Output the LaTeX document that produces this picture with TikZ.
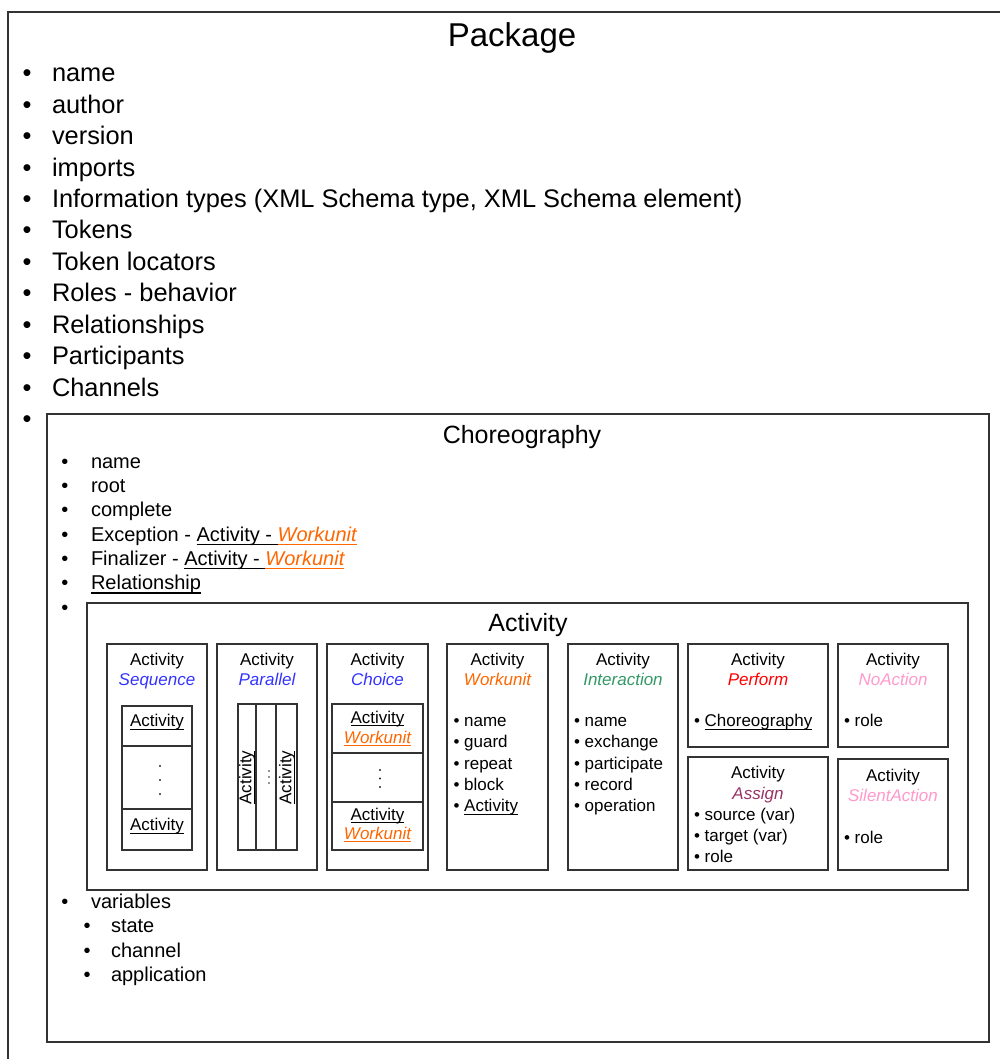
\documentclass[tikz,border=0pt]{standalone}
\usepackage{fontspec}
\setmainfont{Liberation Sans}
\definecolor{seqblue}{RGB}{51,51,255}
\definecolor{wuorange}{RGB}{255,102,0}
\definecolor{intgreen}{RGB}{51,153,102}
\definecolor{perfred}{RGB}{255,0,0}
\definecolor{nopink}{RGB}{255,153,204}
\definecolor{asgpurple}{RGB}{153,51,102}
\newcommand{\ulx}[1]{\setbox0\hbox{#1}\rlap{\rule[-0.19em]{\wd0}{0.065em}}\box0}
\begin{document}
\begin{tikzpicture}[x=1pt,y=-1pt,
  bx/.style={draw=black!80, line width=1.3pt, rectangle, inner sep=0pt, outer sep=0pt, anchor=north west},
  cl/.style={draw=black!80, line width=1.1pt, rectangle, inner sep=0pt, outer sep=0pt, anchor=north west},
  txt/.style={inner sep=0pt, outer sep=0pt, anchor=base},
  ltxt/.style={inner sep=0pt, outer sep=0pt, anchor=base west},
  fPkg/.style={font=\fontsize{33}{40}\selectfont},
  fBig/.style={font=\fontsize{25.4}{30}\selectfont},
  fTit/.style={font=\fontsize{25}{30}\selectfont},
  fMid/.style={font=\fontsize{20}{24}\selectfont},
  fSm/.style={font=\fontsize{17}{20}\selectfont},
  dotm/.style={circle, fill=black!85, inner sep=0pt, minimum size=2.2pt}
]
\path[use as bounding box] (0,0) rectangle (1000,1059);
\begin{scope}
\clip (0,0) rectangle (1000,1059);
\node[bx, minimum width=1010, minimum height=1070] (package) at (8,12) {};
\end{scope}
% Package
\node[txt,fPkg] (pkgtitle) at (512,46.7) {Package};
\foreach \t [count=\i] in {name,author,version,imports,{Information types (XML Schema type, XML Schema element)},Tokens,{Token locators},{Roles - behavior},Relationships,Participants,Channels}{
  \node[ltxt,fBig] (pk\i) at (52,{81.7+(\i-1)*31.45}) {\t};
  \node[txt,fBig] (pkb\i) at (27,{81.7+(\i-1)*31.45}) {•};
}
\node[txt,fBig] (pkb12) at (27,427.6) {•};
% Choreography
\node[bx, minimum width=942, minimum height=628] (chor) at (47,414) {};
\node[txt,fTit] (chortitle) at (522,443) {Choreography};
\node[ltxt,fMid] (ch1) at (91,468.3) {name};
\node[ltxt,fMid] (ch2) at (91,492.6) {root};
\node[ltxt,fMid] (ch3) at (91,516.9) {complete};
\node[ltxt,fMid] (ch4) at (91,541.2) {Exception - \ulx{Activity - }{\color{wuorange}\ulx{\itshape Workunit}}};
\node[ltxt,fMid] (ch5) at (91,565.5) {Finalizer - \ulx{Activity - }{\color{wuorange}\ulx{\itshape Workunit}}};
\node[ltxt,fMid] (ch6) at (91,589.8) {\ulx{Relationship}};
\foreach \i in {1,...,7}{
  \node[txt,fMid] (chb\i) at (65,{468.3+(\i-1)*24.3}) {•};
}
\node[ltxt,fMid] (var) at (91,908) {variables};
\node[txt,fMid] (varb) at (65,908) {•};
\node[ltxt,fMid] (var1) at (111,932.5) {state};
\node[ltxt,fMid] (var2) at (111,957) {channel};
\node[ltxt,fMid] (var3) at (111,981.5) {application};
\node[txt,fMid] (varb1) at (87,932.5) {•};
\node[txt,fMid] (varb2) at (87,957) {•};
\node[txt,fMid] (varb3) at (87,981.5) {•};
% Activity
\node[bx, minimum width=881, minimum height=287] (act) at (87,603) {};
\node[txt,fTit] (acttitle) at (528,631.7) {Activity};
% Sequence
\node[bx, minimum width=100, minimum height=226] (seq) at (107,644) {};
\node[txt,fSm] (seqh) at (157,665) {Activity};
\node[txt,fSm,text=seqblue] (seqs) at (157,685) {\itshape Sequence};
\node[cl, minimum width=70, minimum height=40] (seqA) at (122,706) {};
\node[cl, minimum width=70, minimum height=63] (seqD) at (122,746) {};
\node[cl, minimum width=70, minimum height=41] (seqB) at (122,809) {};
\node[txt,fSm] (seqat) at (157,726.7) {\ulx{Activity}};
\node[txt,fSm] (seqbt) at (157,830.7) {\ulx{Activity}};
\node[dotm] (sd1) at (160,766) {};
\node[dotm] (sd2) at (160,780) {};
\node[dotm] (sd3) at (160,794) {};
% Parallel
\node[bx, minimum width=100, minimum height=226] (par) at (217,644) {};
\node[txt,fSm] (parh) at (267,665) {Activity};
\node[txt,fSm,text=seqblue] (pars) at (267,685) {\itshape Parallel};
\node[cl, minimum width=18, minimum height=146] (pc1) at (238,704) {};
\node[cl, minimum width=20, minimum height=146] (pc2) at (256,704) {};
\node[cl, minimum width=21, minimum height=146] (pc3) at (276,704) {};
\node[fSm, rotate=90, inner sep=0pt] (pa1) at (247,777.5) {\ulx{Activity}};
\node[fSm, rotate=90, inner sep=0pt] (pa2) at (287,777.5) {\ulx{Activity}};
\node[dotm, minimum size=1.8pt] (pd1) at (269,771) {};
\node[dotm, minimum size=1.8pt] (pd2) at (269,777) {};
\node[dotm, minimum size=1.8pt] (pd3) at (269,783) {};
% Choice
\node[bx, minimum width=101, minimum height=226] (cho) at (327,644) {};
\node[txt,fSm] (choh) at (377.5,665) {Activity};
\node[txt,fSm,text=seqblue] (chos) at (377.5,685) {\itshape Choice};
\node[cl, minimum width=91, minimum height=49] (cc1) at (332,704) {};
\node[cl, minimum width=91, minimum height=49] (cc2) at (332,753) {};
\node[cl, minimum width=91, minimum height=48] (cc3) at (332,802) {};
\node[txt,fSm] (cca1) at (377.5,723) {\ulx{Activity}};
\node[txt,fSm,text=wuorange] (ccw1) at (377.5,743) {\ulx{\itshape Workunit}};
\node[txt,fSm] (cca3) at (377.5,820) {\ulx{Activity}};
\node[txt,fSm,text=wuorange] (ccw3) at (377.5,839) {\ulx{\itshape Workunit}};
\node[dotm] (cd1) at (380,770) {};
\node[dotm] (cd2) at (380,778.5) {};
\node[dotm] (cd3) at (380,787) {};
% Workunit
\node[bx, minimum width=101, minimum height=226] (wu) at (447,644) {};
\node[txt,fSm] (wuh) at (497.5,665) {Activity};
\node[txt,fSm,text=wuorange] (wus) at (497.5,685) {\itshape Workunit};
\foreach \t [count=\i] in {name,guard,repeat,block,\ulx{Activity}}{
  \node[ltxt,fSm] (wui\i) at (453.5,{726.7+(\i-1)*21.25}) {• \t};
}
% Interaction
\node[bx, minimum width=110, minimum height=226] (int) at (568,644) {};
\node[txt,fSm] (inth) at (623,665) {Activity};
\node[txt,fSm,text=intgreen] (ints) at (623,685) {\itshape Interaction};
\foreach \t [count=\i] in {name,exchange,participate,record,operation}{
  \node[ltxt,fSm] (inti\i) at (574,{726.7+(\i-1)*21.25}) {• \t};
}
% Perform
\node[bx, minimum width=140, minimum height=103] (perf) at (688,644) {};
\node[txt,fSm] (perfh) at (758,665) {Activity};
\node[txt,fSm,text=perfred] (perfs) at (758,685) {\itshape Perform};
\node[ltxt,fSm] (perfi) at (694,726.7) {• \ulx{Choreography}};
% NoAction
\node[bx, minimum width=110, minimum height=103] (noa) at (838,644) {};
\node[txt,fSm] (noah) at (893,665) {Activity};
\node[txt,fSm,text=nopink] (noas) at (893,685) {\itshape NoAction};
\node[ltxt,fSm] (noai) at (844,726.7) {• role};
% Assign
\node[bx, minimum width=140, minimum height=113] (asg) at (688,757) {};
\node[txt,fSm] (asgh) at (758,778) {Activity};
\node[txt,fSm,text=asgpurple] (asgs) at (758,799) {\itshape Assign};
\node[ltxt,fSm] (asg1) at (694,820) {• source (var)};
\node[ltxt,fSm] (asg2) at (694,841) {• target (var)};
\node[ltxt,fSm] (asg3) at (694,862) {• role};
% SilentAction
\node[bx, minimum width=110, minimum height=111] (sil) at (838,759) {};
\node[txt,fSm] (silh) at (893,781.7) {Activity};
\node[txt,fSm,text=nopink] (sils) at (893,801.7) {\itshape SilentAction};
\node[ltxt,fSm] (sili) at (844,843) {• role};
\end{tikzpicture}
\end{document}
